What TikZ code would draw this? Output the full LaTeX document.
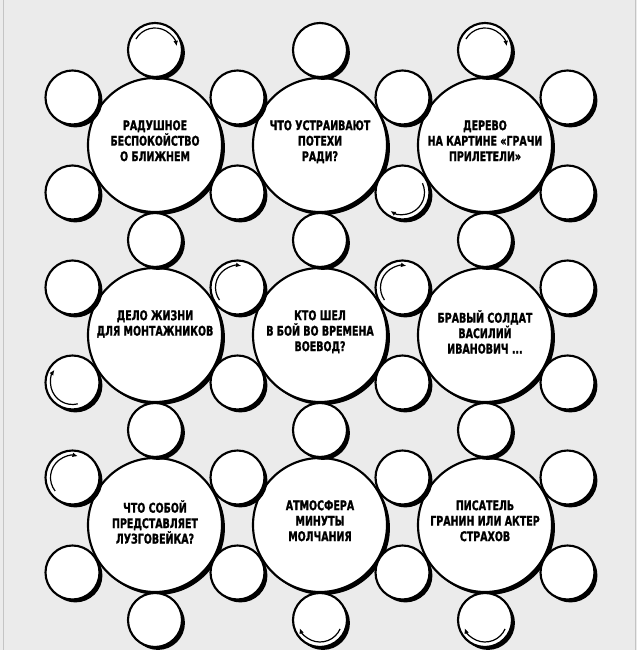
\documentclass[tikz,border=0pt]{standalone}
\usepackage{fontspec}
\setmainfont{DejaVu Sans Condensed}[FakeStretch=0.79, BoldFeatures={FakeBold=1.3}]
\usepackage{tikz}
\usetikzlibrary{arrows.meta, shadows, calc}
\definecolor{quizgray}{RGB}{235,235,235}
\definecolor{quizrule}{RGB}{196,196,196}

\tikzset{
  disc/.style={circle, draw=black, fill=white, line width=1.6pt, inner sep=0pt,
    drop shadow={opacity=1, fill=black, shadow xshift=2.2pt, shadow yshift=-2.2pt}},
  bigdisc/.style={disc, minimum size=100.5pt},
  smalldisc/.style={disc, minimum size=40.5pt},
  question/.style={align=center, anchor=north, inner sep=0pt,
    font=\bfseries\fontsize{10}{11.6}\selectfont,
    execute at begin node={\rule{0pt}{9pt}}},
  turn/.style={line width=0.9pt, -{Latex[length=4pt,width=3.5pt]}}
}

\begin{document}
\begin{tikzpicture}[x=0.75pt, y=0.75pt]
  \fill[quizgray] (0,0) rectangle (637,650);
  \useasboundingbox (0,0) rectangle (637,650);
  \draw[quizrule, line width=1.1pt] (3.5,0) -- (3.5,650);
  \draw[quizrule, line width=1.1pt] (635.5,0) -- (635.5,650);

  % big circles with the questions
  \foreach \r/\c/\txt in {
      1/1/{РАДУШНОЕ\\БЕСПОКОЙСТВО\\О БЛИЖНЕМ},
      1/2/{ЧТО УСТРАИВАЮТ\\ПОТЕХИ\\РАДИ?},
      1/3/{ДЕРЕВО\\НА КАРТИНЕ «ГРАЧИ\\ПРИЛЕТЕЛИ»},
      2/1/{ДЕЛО ЖИЗНИ\\ДЛЯ МОНТАЖНИКОВ},
      2/2/{КТО ШЕЛ\\В БОЙ ВО ВРЕМЕНА\\ВОЕВОД?},
      2/3/{БРАВЫЙ СОЛДАТ\\ВАСИЛИЙ\\ИВАНОВИЧ ...},
      3/1/{ЧТО СОБОЙ\\ПРЕДСТАВЛЯЕТ\\ЛУЗГОВЕЙКА?},
      3/2/{АТМОСФЕРА\\МИНУТЫ\\МОЛЧАНИЯ},
      3/3/{ПИСАТЕЛЬ\\ГРАНИН ИЛИ АКТЕР\\СТРАХОВ}} {
    \node[bigdisc] (g-\r-\c) at ({155+165*(\c-1)}, {505-190*(\r-1)}) {};
    \node[question] (t-\r-\c) at ($(g-\r-\c)+(0,25)$) {\txt};
  }

  % letter circles
  \foreach \k in {0,...,3}
    \foreach \j in {1,...,6}
      \node[smalldisc] (sd-\k-\j) at ({72.5+165*\k}, {552.5-95*(\j-1)}) {};
  \foreach \k in {0,...,2}
    \foreach \j in {0,...,3}
      \node[smalldisc] (sc-\k-\j) at ({155+165*\k}, {600-190*\j}) {};

  % reading direction
  \draw[turn] (sc-0-0.center) ++(150:16.5pt) arc[start angle=150, end angle=10, radius=16.5pt];
  \draw[turn] (sc-2-0.center) ++(150:16.5pt) arc[start angle=150, end angle=10, radius=16.5pt];
  \draw[turn] (sd-2-2.center) ++(25:16.5pt) arc[start angle=25, end angle=-123, radius=16.5pt];
  \draw[turn] (sd-1-3.center) ++(215:16.5pt) arc[start angle=215, end angle=80, radius=16.5pt];
  \draw[turn] (sd-2-3.center) ++(215:16.5pt) arc[start angle=215, end angle=80, radius=16.5pt];
  \draw[turn] (sd-0-4.center) ++(284:16.5pt) arc[start angle=284, end angle=145, radius=16.5pt];
  \draw[turn] (sd-0-5.center) ++(218:16.5pt) arc[start angle=218, end angle=76, radius=16.5pt];
  \draw[turn] (sc-1-3.center) ++(-24:16.5pt) arc[start angle=-24, end angle=-158, radius=16.5pt];
  \draw[turn] (sc-2-3.center) ++(-24:16.5pt) arc[start angle=-24, end angle=-158, radius=16.5pt];
\end{tikzpicture}
\end{document}
